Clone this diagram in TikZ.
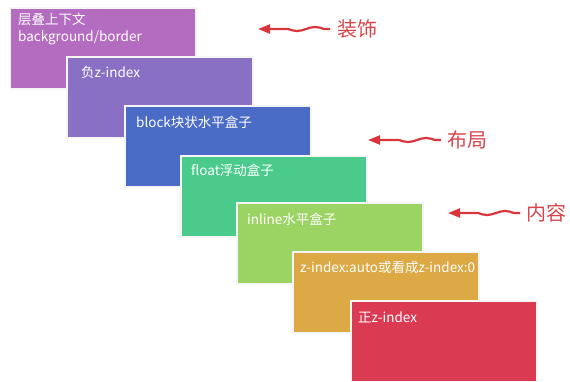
\documentclass[tikz,border=0pt]{standalone}
\usepackage{fontspec}
\setmainfont{Noto Sans CJK SC}
\usetikzlibrary{arrows.meta}
\definecolor{cA}{HTML}{B36CC0}
\definecolor{cB}{HTML}{8A70C4}
\definecolor{cC}{HTML}{4A6BC6}
\definecolor{cD}{HTML}{4BCB8B}
\definecolor{cE}{HTML}{9CD463}
\definecolor{cF}{HTML}{DCA944}
\definecolor{cG}{HTML}{DA3A52}
\definecolor{arrred}{HTML}{D8363C}
\definecolor{lblred}{HTML}{D9444A}
\tikzset{
  layerbox/.style={draw=white!92!gray, line width=1.2pt, minimum width=186pt, minimum height=81pt, anchor=north west, inner sep=0pt, outer sep=0pt},
  boxtext/.style={text=white, font=\fontsize{13.5}{17}\selectfont, anchor=west, inner sep=0pt, align=left},
  wavyarrow/.style={draw=arrred, line width=2.2pt, line join=round, -{Triangle[length=12pt,width=9pt]}},
  sidelabel/.style={text=lblred, font=\fontsize{20}{22}\selectfont, anchor=west, inner sep=0pt}
}
\begin{document}
\begin{tikzpicture}[x=1pt,y=-1pt]
\useasboundingbox (0,0) rectangle (570,381);
\node[layerbox, fill=cA] (b1) at (10,8) {};
\node[boxtext, anchor=north west] (t1) at ([xshift=8pt,yshift=-5pt]b1.north west) {层叠上下文\\background/border};
\node[layerbox, fill=cB] (b2) at (67,57) {};
\node[boxtext] (t2) at ([xshift=14pt,yshift=-15pt]b2.north west) {负z-index};
\node[layerbox, fill=cC] (b3) at (125,106) {};
\node[boxtext] (t3) at ([xshift=11pt,yshift=-16pt]b3.north west) {block块状水平盒子};
\node[layerbox, fill=cD] (b4) at (181,156) {};
\node[boxtext] (t4) at ([xshift=10pt,yshift=-14pt]b4.north west) {float浮动盒子};
\node[layerbox, fill=cE] (b5) at (237,203) {};
\node[boxtext] (t5) at ([xshift=10pt,yshift=-16pt]b5.north west) {inline水平盒子};
\node[layerbox, fill=cF] (b6) at (293,252) {};
\node[boxtext] (t6) at ([xshift=7pt,yshift=-15pt]b6.north west) {z-index:auto或看成z-index:0};
\node[layerbox, fill=cG] (b7) at (351,301) {};
\node[boxtext] (t7) at ([xshift=7pt,yshift=-16pt]b7.north west) {正z-index};
% arrows
\coordinate (a1s) at (330,29);
\coordinate (a1e) at (258,29);
\coordinate (a2s) at (441,140);
\coordinate (a2e) at (368,140);
\coordinate (a3s) at (520,213);
\coordinate (a3e) at (448,213);
\foreach \s/\e in {a1s/a1e,a2s/a2e,a3s/a3e}{
  \draw[wavyarrow] (\s) -- ++(-6,0) sin ++(-9,-2) cos ++(-9,2) sin ++(-9,2) cos ++(-9,-2) -- (\e);
}
\node[sidelabel] (l1) at (337,29) {装饰};
\node[sidelabel] (l2) at (447,140) {布局};
\node[sidelabel] (l3) at (526,213) {内容};
\end{tikzpicture}
\end{document}
